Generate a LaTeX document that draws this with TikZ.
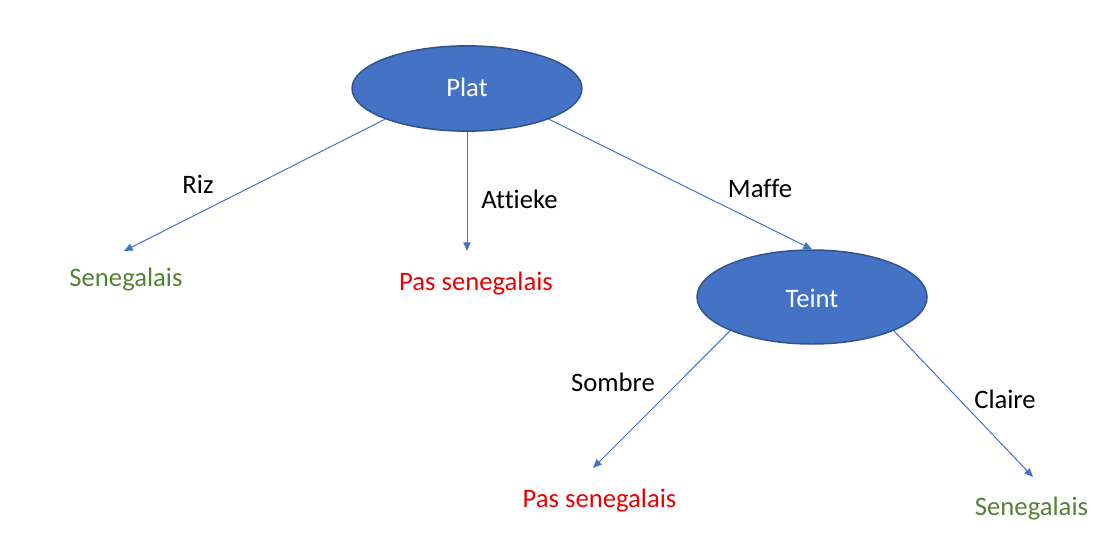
\documentclass[tikz,border=0pt]{standalone}
\usepackage{fontspec}
\setmainfont{Carlito}[Ligatures=NoCommon]
\usetikzlibrary{shapes.geometric,arrows.meta}
\definecolor{ofblue}{HTML}{4472C4}
\definecolor{ofborder}{HTML}{2F528F}
\definecolor{ofgreen}{HTML}{548235}
\definecolor{ofred}{HTML}{EE0000}
\begin{document}
\begin{tikzpicture}[x=0.75pt,y=-0.75pt,
  every node/.style={font=\fontsize{20}{24}\selectfont, inner sep=0pt},
  decision/.style={ellipse, fill=ofblue, draw=ofborder, line width=1.1pt,
     text=white, minimum width=172.5pt, minimum height=64pt},
  lbl/.style={anchor=base, text=black},
  yes/.style={anchor=base, text=ofgreen},
  no/.style={anchor=base, text=ofred},
  conn/.style={draw=ofblue, line width=0.75pt, -{Triangle[length=6.5pt,width=5.5pt]}}]
\useasboundingbox (0,0) rectangle (1117,560);
\node[decision] (plat) at (467,88.5) {};
\node[anchor=base, text=white] (plattxt) at (467,96) {Plat};
\node[decision, minimum height=70.5pt] (teint) at (812,297) {};
\node[anchor=base, text=white] (teinttxt) at (812,307) {Teint};
\node[yes] (sen1) at (126,286) {Senegalais};
\node[no] (pas1) at (476,290) {Pas senegalais};
\node[no] (pas2) at (599.5,507) {Pas senegalais};
\node[yes] (sen2) at (1031.5,515) {Senegalais};
\node[lbl] (riz) at (198,193) {Riz};
\node[lbl] (att) at (519.5,208) {Attieke};
\node[lbl] (maf) at (760,197) {Maffe};
\node[lbl] (som) at (613,391) {Sombre};
\node[lbl] (cla) at (1005,408) {Claire};
\coordinate (t1) at (124,251);
\coordinate (t2) at (467,251);
\coordinate (t3) at (593,468);
\coordinate (t4) at (1033,477);
\draw[conn] (plat.south west) -- (t1);
\draw[conn] (plat.south) -- (t2);
\draw[conn] (plat.south east) -- (teint.north);
\draw[conn] (teint.south west) -- (t3);
\draw[conn] (teint.south east) -- (t4);
\end{tikzpicture}
\end{document}
